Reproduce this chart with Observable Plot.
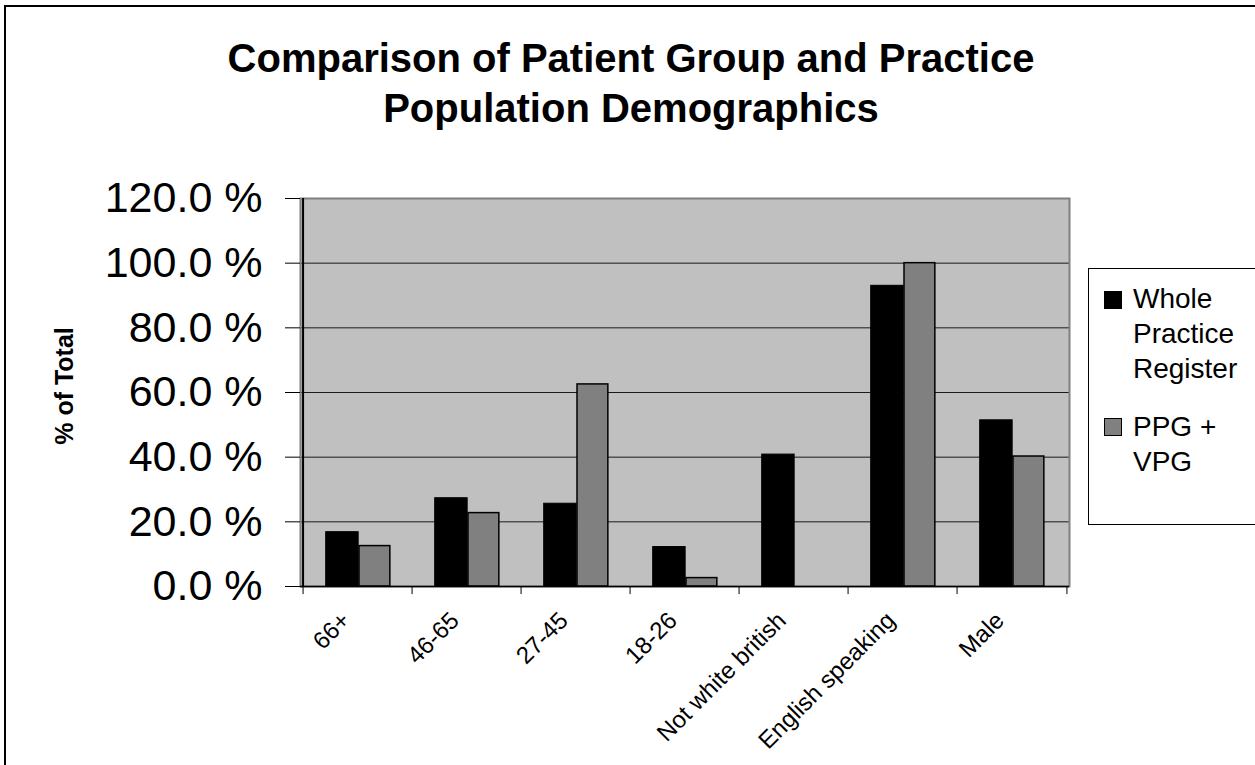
<!DOCTYPE html>
<html><head><meta charset="utf-8">
<script src="https://cdn.jsdelivr.net/npm/d3@7"></script>
<script src="https://cdn.jsdelivr.net/npm/@observablehq/plot@0.6"></script>
<style>
body{margin:0;background:#fff;font-family:"Liberation Sans",Arial,sans-serif;color:#000;}
#wrap{position:relative;width:1255px;height:765px;overflow:hidden;background:#fff;}
#border{position:absolute;left:4px;top:5px;width:1400px;height:900px;border-left:2px solid #000;border-top:2px solid #000;}
#chart{position:absolute;left:0;top:0;}
#title{position:absolute;left:0;top:33px;width:1262px;text-align:center;font-weight:bold;font-size:40px;line-height:50px;}
#ylabel{position:absolute;left:64px;top:386px;transform:translate(-50%,-50%) rotate(-90deg);font-weight:bold;font-size:25px;white-space:nowrap;}
#legend{position:absolute;left:1088px;top:268px;width:170px;height:255px;border:1px solid #000;background:#fff;}
.sw{position:absolute;left:15px;width:16px;height:16px;border:1px solid #000;}
.lt{position:absolute;left:44px;font-size:28px;line-height:35px;white-space:nowrap;}
</style></head>
<body>
<div id="wrap">
  <div id="border"></div>
  <div id="chart"></div>
  <div id="title"></div>
  <div id="ylabel"></div>
  <div id="legend"></div>
</div>
<script>
const titleLines = ["Comparison of Patient Group and Practice", "Population Demographics"];
const yLabel = "% of Total";
const categories = ["66+", "46-65", "27-45", "18-26", "Not white british", "English speaking", "Male"];
const seriesNames = ["Whole Practice Register", "PPG + VPG"];
const legendLines = [["Whole", "Practice", "Register"], ["PPG +", "VPG"]];
const wholePractice = [16.8, 27.3, 25.6, 12.2, 40.8, 93.0, 51.4];
const ppgVpg = [12.5, 22.7, 62.5, 2.6, 0, 100.0, 40.2];
const yTicks = [0, 20, 40, 60, 80, 100, 120];
const seriesColors = ["#000000", "#808080"];

const rows = [];
categories.forEach((c, i) => {
  rows.push({category: c, series: seriesNames[0], value: wholePractice[i]});
  rows.push({category: c, series: seriesNames[1], value: ppgVpg[i]});
});

const W = 1075, H = 765, ml = 300, mr = 6, mt = 198, mb = 179;
const bw = (W - ml - mr) / categories.length;
const half = bw / 2;

const chart = Plot.plot({
  width: W, height: H,
  marginLeft: ml, marginRight: mr, marginTop: mt, marginBottom: mb,
  style: {background: "transparent", fontFamily: "'Liberation Sans', Arial, sans-serif", fontSize: "24px", color: "#000", overflow: "visible"},
  x: {type: "band", domain: categories, padding: 0},
  y: {domain: [0, 120]},
  marks: [
    Plot.frame({fill: "#c0c0c0"}),
    Plot.ruleY(yTicks.filter(t => t > 0 && t < 120), {stroke: "#1a1a1a", strokeWidth: 1}),
    Plot.frame({stroke: "#808080", strokeWidth: 2}),
    Plot.barY(rows.filter(d => d.series === seriesNames[0] && d.value > 0), {
      x: "category", y: "value", fill: seriesColors[0], stroke: "#000", strokeWidth: 1,
      insetLeft: 22.7, insetRight: bw - 56
    }),
    Plot.barY(rows.filter(d => d.series === seriesNames[1] && d.value > 0), {
      x: "category", y: "value", fill: seriesColors[1], stroke: "#000", strokeWidth: 1.5,
      insetLeft: 56, insetRight: bw - 87.7
    }),
    Plot.ruleY([0], {stroke: "#000", strokeWidth: 1.5}),
    Plot.ruleX(categories.slice(0, 1), {x: d => d, dx: -half, y1: 0, y2: 120, stroke: "#000", strokeWidth: 2}),
    Plot.ruleX(categories, {x: d => d, dx: -half, y1: 0, y2: -2.5, stroke: "#000", strokeWidth: 1}),
    Plot.ruleX(categories.slice(-1), {x: d => d, dx: half, y1: 0, y2: -2.5, stroke: "#000", strokeWidth: 1}),
    Plot.axisY({ticks: yTicks, tickFormat: d => d.toFixed(1) + " %", tickSize: 15, tickPadding: 23, fontSize: 43, label: null}),
    Plot.axisX({tickRotate: -45, tickSize: 0, tickPadding: 30, dx: -12, fontSize: 24, label: null})
  ]
});
document.getElementById("chart").appendChild(chart);

document.getElementById("title").innerHTML = titleLines.map(t => `<div>${t}</div>`).join("");
document.getElementById("ylabel").textContent = yLabel;

const legend = document.getElementById("legend");
const swTops = [22, 149];
const txtTops = [12, 140];
seriesNames.forEach((s, i) => {
  const sw = document.createElement("div");
  sw.className = "sw";
  sw.style.top = swTops[i] + "px";
  sw.style.background = seriesColors[i];
  legend.appendChild(sw);
  const t = document.createElement("div");
  t.className = "lt";
  t.style.top = txtTops[i] + "px";
  t.innerHTML = legendLines[i].join("<br>");
  t.title = s;
  legend.appendChild(t);
});
</script>
</body></html>
